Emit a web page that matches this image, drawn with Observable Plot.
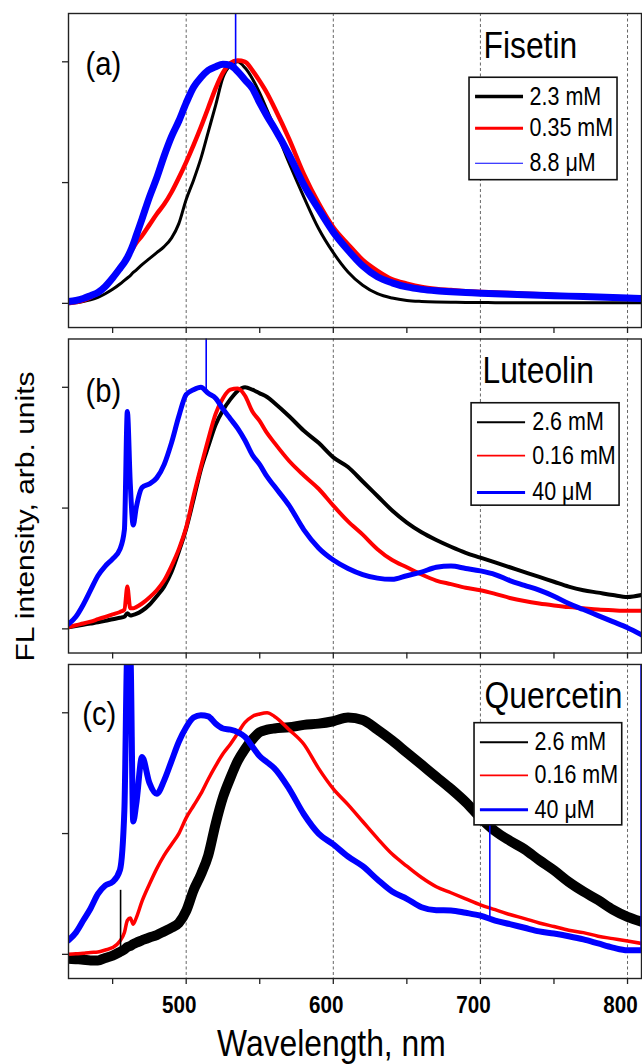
<!DOCTYPE html>
<html><head><meta charset="utf-8">
<script src="https://cdn.jsdelivr.net/npm/d3@7"></script>
<script src="https://cdn.jsdelivr.net/npm/@observablehq/plot@0.6"></script>
<style>
body{margin:0;background:#fff;}
#chart svg{display:block;}
</style></head><body><div id="chart"></div>
<script>
// ---------------- DATA ----------------
const wavelength = [420,425,430,435,440,445,450,455,458,460,462,464,466,470,475,480,485,490,495,500,505,510,515,520,525,530,535,540,545,550,555,560,570,580,590,600,610,620,630,640,650,660,670,680,690,700,710,720,730,740,750,760,770,780,790,800,809.5];

const fisetin_2_3mM = [0.0,0.003,0.008,0.015,0.025,0.04,0.058,0.08,0.095,0.105,0.115,0.128,0.138,0.16,0.185,0.21,0.235,0.27,0.33,0.43,0.51,0.60,0.71,0.82,0.935,0.985,1.0,0.975,0.93,0.87,0.80,0.73,0.58,0.44,0.31,0.21,0.13,0.075,0.04,0.022,0.012,0.008,0.006,0.005,0.004,0.004,0.003,0.003,0.003,0.003,0.003,0.003,0.003,0.003,0.003,0.003,0.003];
const fisetin_0_35mM = [0.0,0.005,0.012,0.025,0.045,0.07,0.11,0.15,0.175,0.19,0.21,0.23,0.25,0.28,0.325,0.37,0.41,0.46,0.52,0.585,0.655,0.73,0.81,0.89,0.955,0.995,1.005,1.0,0.965,0.92,0.87,0.81,0.68,0.535,0.415,0.315,0.245,0.18,0.135,0.10,0.082,0.068,0.06,0.055,0.05,0.047,0.045,0.043,0.04,0.038,0.035,0.033,0.03,0.028,0.026,0.025,0.025];
const fisetin_8_8uM = [0.008,0.012,0.02,0.032,0.045,0.07,0.105,0.145,0.17,0.19,0.215,0.245,0.28,0.35,0.44,0.52,0.61,0.69,0.755,0.83,0.895,0.935,0.965,0.98,0.99,0.985,0.96,0.925,0.89,0.83,0.775,0.725,0.615,0.49,0.39,0.295,0.22,0.155,0.11,0.085,0.068,0.058,0.052,0.048,0.045,0.042,0.04,0.038,0.036,0.034,0.032,0.03,0.028,0.026,0.024,0.022,0.02];

const luteolin_2_6mM = [0.007,0.012,0.017,0.022,0.027,0.033,0.04,0.046,0.05,0.065,0.055,0.058,0.062,0.075,0.10,0.135,0.175,0.235,0.32,0.415,0.535,0.66,0.755,0.845,0.905,0.95,0.985,1.0,0.99,0.975,0.96,0.935,0.88,0.82,0.77,0.71,0.67,0.61,0.55,0.49,0.44,0.40,0.368,0.34,0.315,0.295,0.275,0.255,0.235,0.215,0.195,0.175,0.16,0.15,0.14,0.132,0.14];
const luteolin_0_16mM = [0.007,0.015,0.022,0.03,0.04,0.05,0.06,0.07,0.08,0.175,0.085,0.085,0.09,0.105,0.13,0.16,0.2,0.26,0.33,0.42,0.55,0.67,0.785,0.89,0.955,0.99,0.995,0.965,0.9,0.86,0.81,0.77,0.695,0.635,0.58,0.51,0.445,0.39,0.33,0.285,0.255,0.225,0.2,0.185,0.17,0.16,0.145,0.128,0.115,0.105,0.097,0.09,0.085,0.08,0.077,0.075,0.075];
const luteolin_40uM = [0.02,0.05,0.10,0.16,0.22,0.26,0.29,0.33,0.41,0.90,0.6,0.43,0.5,0.585,0.60,0.625,0.68,0.77,0.88,0.97,0.99,1.0,0.975,0.955,0.91,0.87,0.83,0.78,0.72,0.68,0.63,0.59,0.51,0.41,0.335,0.285,0.25,0.225,0.21,0.205,0.22,0.235,0.255,0.26,0.25,0.24,0.225,0.2,0.18,0.16,0.135,0.105,0.08,0.055,0.03,0.005,-0.025];

const quercetin_2_6mM = [-0.018,-0.02,-0.022,-0.025,-0.025,-0.015,-0.005,0.01,0.02,0.03,0.035,0.042,0.048,0.058,0.07,0.08,0.095,0.11,0.13,0.18,0.265,0.33,0.41,0.54,0.65,0.73,0.8,0.85,0.89,0.92,0.93,0.935,0.94,0.95,0.955,0.965,0.98,0.97,0.93,0.885,0.835,0.785,0.735,0.685,0.63,0.565,0.51,0.47,0.435,0.39,0.348,0.3,0.26,0.225,0.185,0.155,0.135];
const quercetin_0_16mM = [0.0,0.002,0.005,0.008,0.01,0.018,0.028,0.055,0.09,0.14,0.15,0.125,0.15,0.22,0.29,0.355,0.41,0.455,0.5,0.565,0.615,0.665,0.725,0.78,0.83,0.87,0.915,0.96,0.985,0.995,1.0,0.985,0.93,0.87,0.77,0.685,0.62,0.55,0.48,0.415,0.365,0.318,0.28,0.255,0.23,0.205,0.185,0.165,0.148,0.13,0.115,0.1,0.09,0.075,0.065,0.055,0.045];
const quercetin_40uM = [0.058,0.09,0.14,0.19,0.25,0.285,0.3,0.35,0.6,1.25,1.25,0.55,0.62,0.817,0.71,0.665,0.72,0.8,0.88,0.94,0.98,0.99,0.985,0.955,0.935,0.93,0.92,0.9,0.86,0.82,0.795,0.77,0.685,0.58,0.5,0.455,0.405,0.365,0.31,0.26,0.23,0.195,0.183,0.182,0.172,0.16,0.14,0.125,0.11,0.095,0.086,0.075,0.062,0.045,0.028,0.017,0.017];

// narrow single-channel spikes
const spikeWavelength = [533.6, 513.6, 455.4, 706.4, 809.2];
const spikeFrom       = [0.97, 0.98, 0.01, 0.15, 0.02];
const spikeTo         = [1.25, 1.25, 0.265, 0.54, 1.25];
const spikePanel      = ["a", "b", "c", "c", "c"];
const spikeSeries     = [2, 2, 0, 2, 2];

const panels = ["a", "b", "c"];
const panelTags = ["(a)", "(b)", "(c)"];
const compounds = ["Fisetin", "Luteolin", "Quercetin"];
const concentrations = [["2.3 mM", "0.35 mM", "8.8 μM"], ["2.6 mM", "0.16 mM", "40 μM"], ["2.6 mM", "0.16 mM", "40 μM"]];
const spectra = [
  [fisetin_2_3mM, fisetin_0_35mM, fisetin_8_8uM],
  [luteolin_2_6mM, luteolin_0_16mM, luteolin_40uM],
  [quercetin_2_6mM, quercetin_0_16mM, quercetin_40uM]
];
const xMinorTicks = [450, 500, 550, 600, 650, 700, 750, 800];
const xTickLabels = [500, 600, 700, 800];
const yTicks = [0, 0.5, 1];
const gridLines = [500, 600, 700, 800];

// ---------------- STYLE / LAYOUT ----------------
const colors = ["#000000", "#ff0000", "#0000ff"];
const curveWidths = [[3, 4.5, 7], [4, 4, 5], [10, 3.5, 6]];
const legendWidths = [[3.5, 3, 1.2], [2, 1.6, 3], [2, 1.6, 3]];
const layout = {
  tagX: [431.6, 431.6, 429.3], tagY: [0.99, 0.984, 0.994],
  nameX: [702.1, 701.4, 702.8], nameY: [1.064, 1.065, 1.07],
  boxX1: [692.6, 694, 696], boxX2: [793.2, 794.6, 796.4],
  boxY1: [0.51, 0.51, 0.534], boxY2: [0.934, 0.934, 0.957],
  rowY: [[0.856, 0.725, 0.58], [0.855, 0.717, 0.565], [0.878, 0.741, 0.599]],
  lineX1: [696.7, 698, 700], lineX2: [729.3, 730.7, 732.7], textX: [733.4, 735.2, 736.8]
};
const FONT = "'Liberation Sans', Arial, Helvetica, sans-serif";

// ---------------- BUILD ----------------
const curveMarks = [];
panels.forEach((p, pi) => {
  spectra[pi].forEach((vals, si) => {
    const rows = vals.map((v, k) => ({panel: p, wavelength: wavelength[k], value: v}));
    curveMarks.push(Plot.line(rows, {
      x: "wavelength", y: "value", fy: "panel",
      stroke: colors[si], strokeWidth: curveWidths[pi][si],
      curve: "monotone-x", clip: true
    }));
  });
});

const spikeIdx = spikeWavelength.map((_, i) => i);
const legendRows = [];
panels.forEach((p, pi) => concentrations[pi].forEach((c, si) => legendRows.push({pi, si, panel: p, label: c})));

const svg = Plot.plot({
  width: 642,
  height: 1064,
  marginLeft: 68,
  marginRight: 1,
  marginTop: 13,
  marginBottom: 86,
  style: {fontFamily: FONT, background: "#fff", color: "#000", overflow: "visible"},
  x: {domain: [420, 809.5]},
  y: {domain: [-0.1, 1.2]},
  fy: {domain: panels, axis: null, paddingInner: 0.0352, paddingOuter: 0, round: false},
  color: {type: "identity"},
  marks: [
    Plot.ruleX(gridLines, {stroke: "#555", strokeWidth: 0.9, strokeDasharray: "3,2.5"}),
    Plot.axisY({ticks: yTicks, tickSize: 6, tickFormat: () => "", label: null, stroke: "#222", strokeWidth: 1.3}),
    Plot.axisX({ticks: xMinorTicks, tickSize: 6, tickFormat: () => "", label: null, facetAnchor: null, stroke: "#222", strokeWidth: 1.3}),
    Plot.axisX({ticks: xTickLabels, tickSize: 0, tickPadding: 17, label: null, tickFormat: d => String(d),
      fontSize: 24, fontWeight: "bold", dx: -7}),
    ...curveMarks,
    Plot.ruleX(spikeIdx, {
      x: i => spikeWavelength[i], y1: i => spikeFrom[i], y2: i => spikeTo[i],
      fy: i => spikePanel[i], stroke: i => colors[spikeSeries[i]], strokeWidth: 1.6, clip: true
    }),
    Plot.rect(panels, {
      x1: (d, i) => layout.boxX1[i], x2: (d, i) => layout.boxX2[i],
      y1: (d, i) => layout.boxY1[i], y2: (d, i) => layout.boxY2[i],
      fy: d => d, fill: "white", stroke: "#111", strokeWidth: 1.6
    }),
    Plot.ruleY(legendRows, {
      x1: d => layout.lineX1[d.pi], x2: d => layout.lineX2[d.pi], y: d => layout.rowY[d.pi][d.si],
      fy: "panel", stroke: d => colors[d.si], strokeWidth: d => legendWidths[d.pi][d.si]
    }),
    Plot.text(legendRows, {
      x: d => layout.textX[d.pi], y: d => layout.rowY[d.pi][d.si], fy: "panel", text: "label",
      textAnchor: "start", lineAnchor: "middle", fontSize: 25, fill: "#000"
    }),
    Plot.text(panels, {
      x: (d, i) => layout.nameX[i], y: (d, i) => layout.nameY[i], fy: d => d,
      text: (d, i) => compounds[i], textAnchor: "start", lineAnchor: "middle", fontSize: 37, fill: "#000"
    }),
    Plot.text(panels, {
      x: (d, i) => layout.tagX[i], y: (d, i) => layout.tagY[i], fy: d => d,
      text: (d, i) => panelTags[i], textAnchor: "start", lineAnchor: "middle", fontSize: 34, fill: "#000"
    }),
    Plot.text(["Wavelength, nm"], {
      fy: () => "c", frameAnchor: "bottom", text: d => d, dx: -23.6, dy: 66,
      textAnchor: "middle", lineAnchor: "middle", fontSize: 37, fill: "#000"
    }),
    Plot.text(["FL intensity, arb. units"], {
      fy: () => "b", frameAnchor: "left", text: d => d, rotate: -90, dx: -43, dy: 20.5,
      textAnchor: "middle", lineAnchor: "middle", fontSize: 30, fill: "#000"
    }),
    Plot.frame({stroke: "#222", strokeWidth: 1.4})
  ]
});

// The original figure is horizontally condensed: apply the same condensation to all text glyphs
d3.select(svg).selectAll("text").each(function() {
  const t = this.getAttribute("transform");
  if (t) {
    this.setAttribute("transform", t + (t.includes("rotate") ? " scale(1,0.86)" : " scale(0.86,1)"));
  } else {
    const x = +this.getAttribute("x") || 0, y = +this.getAttribute("y") || 0;
    this.removeAttribute("x"); this.removeAttribute("y");
    this.setAttribute("transform", `translate(${x},${y}) scale(0.86,1)`);
  }
});
d3.select(svg).selectAll('g[aria-label="x-axis tick label"] text').attr("font-weight", "bold").attr("font-size", 24);

document.getElementById("chart").appendChild(svg);
</script>
</body></html>
